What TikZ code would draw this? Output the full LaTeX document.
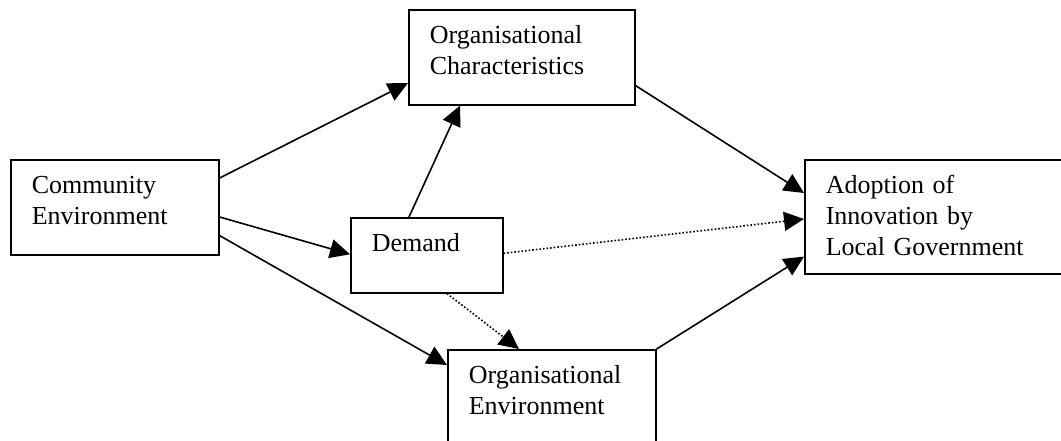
\documentclass[tikz,border=0pt]{standalone}
\usepackage{fontspec}
\setmainfont{Liberation Serif}
\usetikzlibrary{arrows.meta}

\begin{document}
\begin{tikzpicture}[x=1pt,y=-1pt,>={Triangle[length=20pt,width=19pt]},line width=1.6pt,
	block/.style={draw,anchor=north west,align=left,inner xsep=21pt,inner ysep=0pt,
		text height=34pt,font=\fontsize{26}{31}\selectfont}]

\useasboundingbox (0,0) rectangle (1061,441);
\clip (0,0) rectangle (1061,441);

\node[block,text width=166pt,text depth=61pt]   (comm)     at (10,159)   {Community\\Environment};
	\node[block,text width=184pt,text depth=61pt]   (orgchar)  at (408,9)    {Organisational\\Characteristics};
	\node[block,text width=110pt,text depth=41pt]   (demand)   at (350,217)  {Demand};
	\node[block,text width=166pt,text depth=130pt]  (orgenv)   at (447,349)  {Organisational\\Environment};
	\node[block,text width=240pt,text depth=80pt]   (adopt)    at (804,159)  {Adoption of\\Innovation by\\Local Government};

	\path[->] ([yshift=-19pt]comm.north east)  edge  ([yshift=-74pt]orgchar.north west)
					([yshift=-58pt]comm.north east)  edge  ([yshift=1pt]demand.west)
					([yshift=20pt]comm.south east)   edge  ([yshift=-16pt]orgenv.north west)

					([xshift=59pt]demand.north west) edge  ([xshift=52pt]orgchar.south west)
					([xshift=97pt]demand.south west) edge[dotted]  ([xshift=72pt]orgenv.north west)
					([yshift=2pt]demand.east)        edge[dotted]  ([yshift=-60pt]adopt.north west)

					([yshift=20pt]orgchar.south east) edge  ([yshift=-34pt]adopt.north west)
					(orgenv.north east)               edge  ([yshift=18pt]adopt.south west);

\end{tikzpicture}
\end{document}
